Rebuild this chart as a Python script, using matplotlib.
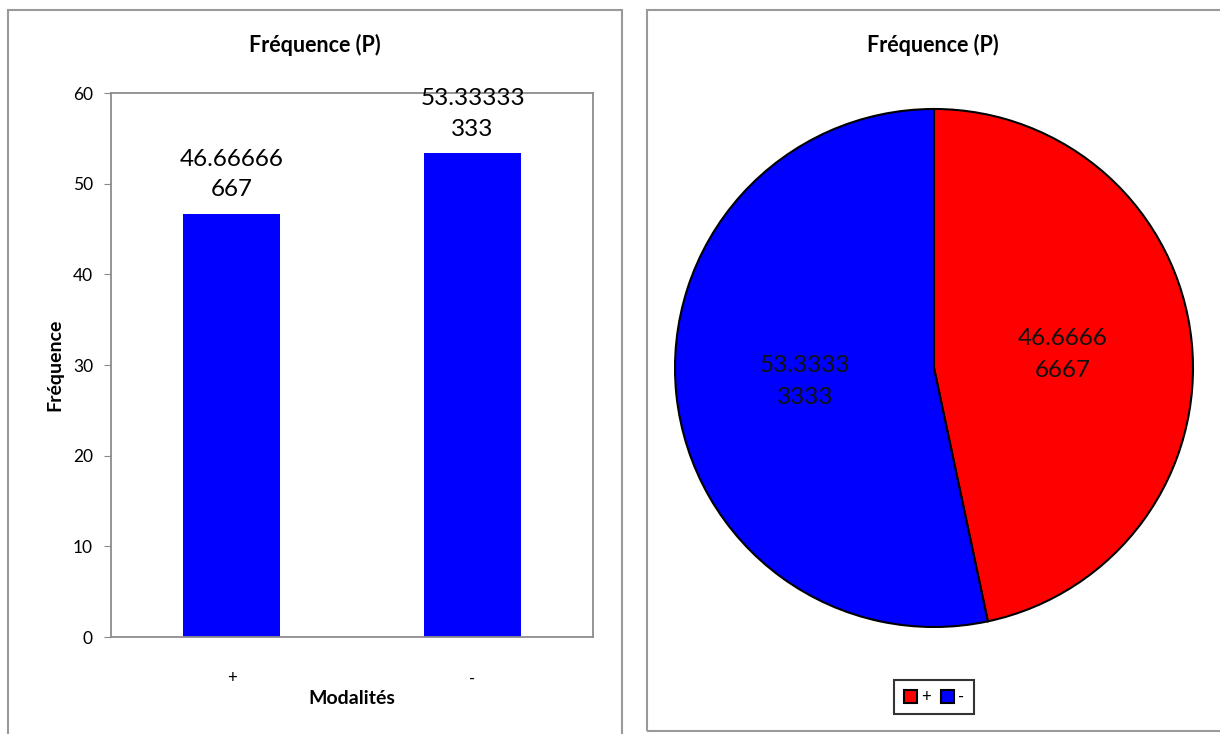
import matplotlib
matplotlib.use("Agg")
import matplotlib.pyplot as plt
from matplotlib.patches import Rectangle

plt.rcParams['font.family'] = ['Lato', 'DejaVu Sans']

# data
modalites = ["+", "-"]
frequences = [46.666666667, 53.333333333]
bar_labels = ["46.66666\n667", "53.33333\n333"]
pie_labels = ["46.6666\n6667", "53.3333\n3333"]
pie_colors = ["#ff0000", "#0000ff"]
yticks = [0, 10, 20, 30, 40, 50, 60]

W, H = 1220, 734
fig = plt.figure(figsize=(W / 100, H / 100), dpi=100)

def fx(px):
    return px / W

def fy(py):
    return 1 - py / H

# panel frames
fig.patches.append(Rectangle((fx(8), fy(760)), fx(622) - fx(8), fy(10) - fy(760),
                             transform=fig.transFigure, fill=False,
                             edgecolor="#9a9a9a", linewidth=1.5))
fig.patches.append(Rectangle((fx(647), fy(731)), fx(1240) - fx(647), fy(10) - fy(731),
                             transform=fig.transFigure, fill=False,
                             edgecolor="#9a9a9a", linewidth=1.5))

# bar chart
ax = fig.add_axes([fx(111), fy(637), fx(593) - fx(111), fy(93) - fy(637)])
x = range(len(modalites))
bars = ax.bar(x, frequences, width=0.4, color="#0000ff")
ax.set_xlim(-0.5, 1.5)
ax.set_ylim(0, 60)
ax.set_yticks(yticks)
ax.set_xticks(list(x))
ax.set_xticklabels(modalites, fontsize=12)
ax.tick_params(axis="x", length=0, pad=24)
ax.tick_params(axis="y", length=5, direction="out", color="#888888", labelsize=12.5, pad=8)
for s in ax.spines.values():
    s.set_color("#8c8c8c")
    s.set_linewidth(1.3)
for b, lab in zip(bars, bar_labels):
    ax.annotate(lab, (b.get_x() + b.get_width() / 2, b.get_height()),
                xytext=(0, 10), textcoords="offset points",
                ha="center", va="bottom", fontsize=17.5, linespacing=1.55)
ax.set_ylabel("Fréquence", fontsize=14, fontweight="bold", labelpad=7)
ax.set_xlabel("Modalités", fontsize=14, fontweight="bold", labelpad=3)
fig.text(fx(315), fy(45), "Fréquence (P)", ha="center", va="center",
         fontsize=15.5, fontweight="bold")

# pie chart
cx, cy, r = 934, 368, 259
pax = fig.add_axes([fx(cx - r), fy(cy + r), fx(2 * r), fy(0) - fy(2 * r)])
wedges, texts = pax.pie(frequences, labels=pie_labels, colors=pie_colors,
                        startangle=90, counterclock=False, labeldistance=0.5,
                        wedgeprops=dict(edgecolor="black", linewidth=1.5),
                        textprops=dict(fontsize=17.5, ha="center", va="center",
                                       color="#111111", linespacing=1.6))
pax.set_xlim(-1, 1)
pax.set_ylim(-1, 1)
pax.set_aspect("equal")
pax.axis("off")
fig.text(fx(933), fy(45), "Fréquence (P)", ha="center", va="center",
         fontsize=15.5, fontweight="bold")

leg = fig.legend(wedges, modalites, loc="center", bbox_to_anchor=(fx(934), fy(697)),
                 ncol=2, fontsize=12, frameon=True, fancybox=False,
                 handlelength=0.8, handleheight=0.8, handletextpad=0.25,
                 columnspacing=0.6, borderpad=0.55, borderaxespad=0)
leg.get_frame().set_edgecolor("black")
leg.get_frame().set_linewidth(1.5)

fig.savefig("out.png", dpi=100)
